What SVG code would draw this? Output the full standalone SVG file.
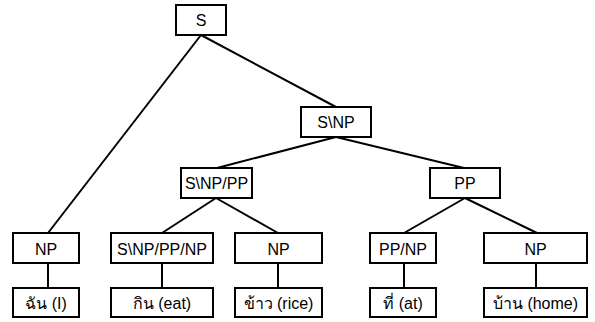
<svg xmlns="http://www.w3.org/2000/svg" width="595" height="322" viewBox="0 0 595 322">
<style>
.box{fill:#fff;stroke:#000;stroke-width:2}
.lbl{font-family:"Liberation Sans","Noto Sans","DejaVu Sans",sans-serif;font-size:16px;fill:#000;text-anchor:middle}
.edge{stroke:#000;stroke-width:2;fill:none}
</style>
<rect width="595" height="322" fill="#fff"/>
<g id="connectors">
<line class="edge" x1="201" y1="35" x2="48" y2="233"/>
<line class="edge" x1="201" y1="35" x2="336" y2="107"/>
<line class="edge" x1="336" y1="137" x2="217" y2="168"/>
<line class="edge" x1="336" y1="137" x2="464" y2="168"/>
<line class="edge" x1="216" y1="198" x2="162" y2="233"/>
<line class="edge" x1="216" y1="198" x2="278" y2="233"/>
<line class="edge" x1="465" y1="198" x2="404" y2="233"/>
<line class="edge" x1="465" y1="198" x2="537" y2="233"/>
<line class="edge" x1="48" y1="263" x2="48" y2="288"/>
<line class="edge" x1="162" y1="263" x2="162" y2="288"/>
<line class="edge" x1="278" y1="263" x2="278" y2="288"/>
<line class="edge" x1="404" y1="263" x2="404" y2="288"/>
<line class="edge" x1="536" y1="263" x2="536" y2="288"/>
</g>
<g id="n-S"><rect class="box" x="176" y="5" width="50" height="30"/><text class="lbl" x="201" y="26">S</text></g>
<g id="n-SNP"><rect class="box" x="301" y="107" width="70" height="30"/><text class="lbl" x="336" y="128">S\NP</text></g>
<g id="n-SNPPP"><rect class="box" x="181" y="168" width="71" height="30"/><text class="lbl" x="216.5" y="189">S\NP/PP</text></g>
<g id="n-PP"><rect class="box" x="430" y="168" width="70" height="30"/><text class="lbl" x="465" y="189">PP</text></g>
<g id="n-NP1"><rect class="box" x="13" y="233" width="66" height="30"/><text class="lbl" x="46" y="255">NP</text></g>
<g id="n-V"><rect class="box" x="111" y="233" width="102" height="30"/><text class="lbl" x="162" y="255">S\NP/PP/NP</text></g>
<g id="n-NP2"><rect class="box" x="235" y="233" width="87" height="30"/><text class="lbl" x="278.5" y="255">NP</text></g>
<g id="n-PPNP"><rect class="box" x="370" y="233" width="66" height="30"/><text class="lbl" x="403" y="255">PP/NP</text></g>
<g id="n-NP3"><rect class="box" x="484" y="233" width="103" height="30"/><text class="lbl" x="535.5" y="255">NP</text></g>
<g id="w-1"><rect class="box" x="13" y="288" width="66" height="29"/><text class="lbl" x="46" y="309">ฉัน (I)</text></g>
<g id="w-2"><rect class="box" x="111" y="288" width="102" height="29"/><text class="lbl" x="162" y="309">กิน (eat)</text></g>
<g id="w-3"><rect class="box" x="235" y="288" width="87" height="29"/><text class="lbl" x="278.5" y="309">ข้าว (rice)</text></g>
<g id="w-4"><rect class="box" x="370" y="288" width="66" height="29"/><text class="lbl" x="403" y="309">ที่ (at)</text></g>
<g id="w-5"><rect class="box" x="484" y="288" width="103" height="29"/><text class="lbl" x="535.5" y="309">บ้าน (home)</text></g>
</svg>
